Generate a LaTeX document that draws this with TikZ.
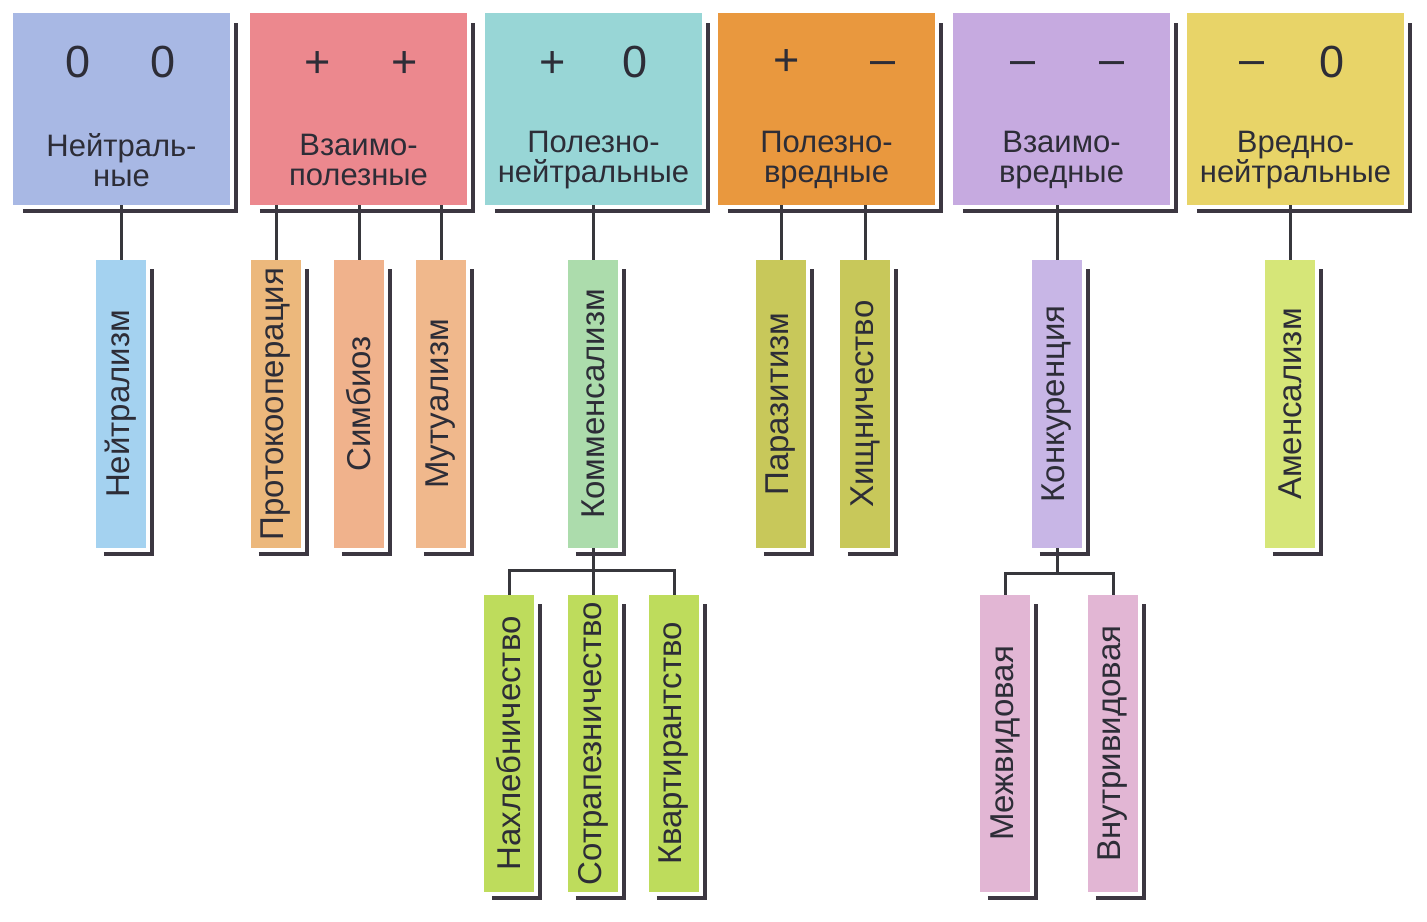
\documentclass[tikz,border=0pt]{standalone}
\usepackage{fontspec}
\setmainfont{Liberation Sans}
\definecolor{cA}{RGB}{168,184,228}
\definecolor{cB}{RGB}{236,136,142}
\definecolor{cC}{RGB}{152,214,214}
\definecolor{cD}{RGB}{233,152,62}
\definecolor{cE}{RGB}{198,170,224}
\definecolor{cF}{RGB}{232,212,104}
\definecolor{sBlue}{RGB}{164,210,240}
\definecolor{sProto}{RGB}{236,184,124}
\definecolor{sSimb}{RGB}{240,178,140}
\definecolor{sMutu}{RGB}{240,184,140}
\definecolor{sKomm}{RGB}{172,220,172}
\definecolor{sPara}{RGB}{200,200,90}
\definecolor{sKonk}{RGB}{200,182,230}
\definecolor{sAmen}{RGB}{214,230,120}
\definecolor{sLime}{RGB}{190,220,92}
\definecolor{sPink}{RGB}{226,182,212}
\definecolor{txt}{RGB}{45,45,55}
\definecolor{shad}{RGB}{60,55,65}
\definecolor{conncol}{RGB}{55,55,60}
\newcommand\boxshadow[3]{\draw[shadowline] ([xshift=#2pt,yshift=-6pt]#1.south west) -| ([xshift=6pt,yshift=-#3pt]#1.north east);}
\begin{document}
\begin{tikzpicture}[x=1pt,y=-1pt,
  topbox/.style={draw=none, inner sep=0pt, minimum width=217pt, minimum height=192pt},
  subbox/.style={draw=none, inner sep=0pt, minimum width=50pt, text=txt, font=\fontsize{33}{33}\selectfont},
  shadowline/.style={draw=shad, line width=4.5pt},
  conn/.style={draw=conncol, line width=3pt},
  sign/.style={font=\fontsize{45}{45}\selectfont, text=txt, inner sep=0pt, anchor=base},
  lbl/.style={font=\fontsize{31}{30}\selectfont, align=center, text=txt, inner sep=0pt}]
\useasboundingbox[fill=white] (0,0) rectangle (1427,921);

% top boxes
\node[topbox, fill=cA] (b1) at (121.5,109) {};
\node[topbox, fill=cB] (b2) at (358.5,109) {};
\node[topbox, fill=cC] (b3) at (593.5,109) {};
\node[topbox, fill=cD] (b4) at (826.5,109) {};
\node[topbox, fill=cE] (b5) at (1061.5,109) {};
\node[topbox, fill=cF] (b6) at (1295.5,109) {};

\node[sign] (s1a) at (78,77) {0};
\node[sign] (s1b) at (163,77) {0};
\node[sign] (s2a) at (318,77) {+};
\node[sign] (s2b) at (405,77) {+};
\node[sign] (s3a) at (553,77) {+};
\node[sign] (s3b) at (635,77) {0};
\node[sign] (s4a) at (787,75) {+};
\node[sign] (s4b) at (883,74) {–};
\node[sign] (s5a) at (1023,74) {–};
\node[sign] (s5b) at (1112,74) {–};
\node[sign] (s6a) at (1252,74) {–};
\node[sign] (s6b) at (1332,77) {0};

\node[lbl] (l1) at (121.5,160) {Нейтраль-\\ные};
\node[lbl] (l2) at (358.5,160) {Взаимо-\\полезные};
\node[lbl] (l3) at (593.5,160) {Полезно-\\нейтральные};
\node[lbl] (l4) at (826.5,160) {Полезно-\\вредные};
\node[lbl] (l5) at (1061.5,160) {Взаимо-\\вредные};
\node[lbl] (l6) at (1295.5,160) {Вредно-\\нейтральные};

% second row
\node[subbox, fill=sBlue, minimum height=288pt] (n1) at (121,404) {\rotatebox{90}{Нейтрализм}};
\node[subbox, fill=sProto, minimum height=288pt] (n2) at (276,404) {\rotatebox{90}{Протокооперация}};
\node[subbox, fill=sSimb, minimum height=288pt] (n3) at (359,404) {\rotatebox{90}{Симбиоз}};
\node[subbox, fill=sMutu, minimum height=288pt] (n4) at (441,404) {\rotatebox{90}{Мутуализм}};
\node[subbox, fill=sKomm, minimum height=288pt] (n5) at (593,404) {\rotatebox{90}{Комменсализм}};
\node[subbox, fill=sPara, minimum height=288pt] (n6) at (781,404) {\rotatebox{90}{Паразитизм}};
\node[subbox, fill=sPara, minimum height=288pt] (n7) at (865,404) {\rotatebox{90}{Хищничество}};
\node[subbox, fill=sKonk, minimum height=288pt] (n8) at (1057,404) {\rotatebox{90}{Конкуренция}};
\node[subbox, fill=sAmen, minimum height=288pt] (n9) at (1290,404) {\rotatebox{90}{Аменсализм}};

% third row
\node[subbox, fill=sLime, minimum height=297pt] (m1) at (509,743.5) {\rotatebox{90}{Нахлебничество}};
\node[subbox, fill=sLime, minimum height=297pt] (m2) at (593,743.5) {\rotatebox{90}{Сотрапезничество}};
\node[subbox, fill=sLime, minimum height=297pt] (m3) at (674,743.5) {\rotatebox{90}{Квартирантство}};
\node[subbox, fill=sPink, minimum height=297pt] (m4) at (1005,743.5) {\rotatebox{90}{Межвидовая}};
\node[subbox, fill=sPink, minimum height=297pt] (m5) at (1113,743.5) {\rotatebox{90}{Внутривидовая}};

% connectors
\draw[conn] (b1.south -| n1.north) -- (n1.north);
\draw[conn] (b2.south -| n2.north) -- (n2.north);
\draw[conn] (b2.south -| n3.north) -- (n3.north);
\draw[conn] (b2.south -| n4.north) -- (n4.north);
\draw[conn] (b3.south -| n5.north) -- (n5.north);
\draw[conn] (b4.south -| n6.north) -- (n6.north);
\draw[conn] (b4.south -| n7.north) -- (n7.north);
\draw[conn] (b5.south -| n8.north) -- (n8.north);
\draw[conn] (b6.south -| n9.north) -- (n9.north);

\coordinate (k1) at (593,570);
\coordinate (k2) at (1057,573);
\draw[conn] (n5.south) -- (m2.north);
\draw[conn] (m1.north) -- (m1.north |- k1) -- (m3.north |- k1) -- (m3.north);
\draw[conn] (n8.south) -- (k2);
\draw[conn] (m4.north) -- (m4.north |- k2) -- (m5.north |- k2) -- (m5.north);

% shadows
\foreach \b in {b1,b2,b3,b4,b5,b6} {\boxshadow{\b}{10}{10}}
\foreach \b in {n1,n2,n3,n4,n5,n6,n7,n8,n9,m1,m2,m3,m4,m5} {\boxshadow{\b}{8}{9}}
\end{tikzpicture}
\end{document}
